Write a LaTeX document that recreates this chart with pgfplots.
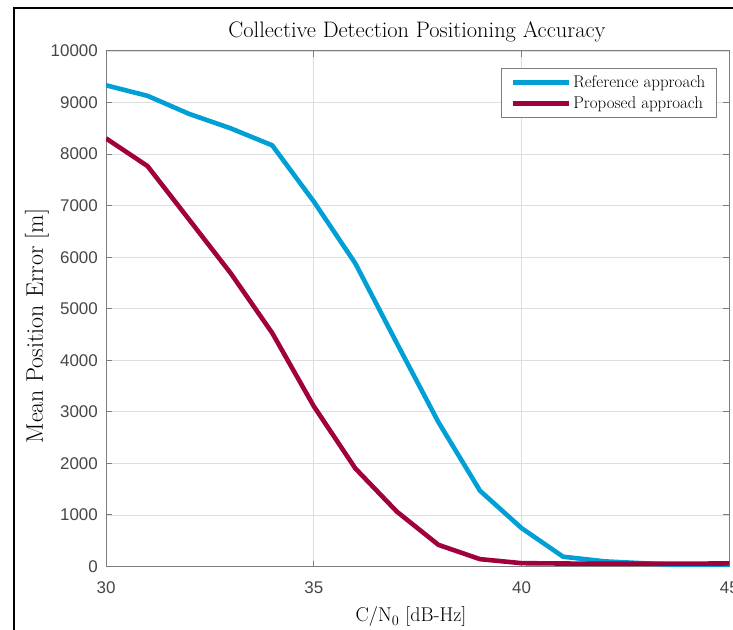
\documentclass[border=0pt]{standalone}
\usepackage{fontspec}
\usepackage{pgfplots}
\pgfplotsset{compat=1.18}
\newfontfamily\tickfont{Liberation Sans}
\definecolor{refblue}{RGB}{0,160,215}
\definecolor{propred}{RGB}{160,0,60}
\definecolor{tickgray}{RGB}{70,70,70}
\definecolor{axgray}{RGB}{125,125,125}
\definecolor{gridgray}{RGB}{222,222,222}
\begin{document}
\begin{tikzpicture}[x=1bp,y=1bp]
\useasboundingbox (0,0) rectangle (733,-630);
\draw[black, line width=1.5bp] (14,-640) -- (14,-8) -- (745,-8);
\begin{axis}[
  at={(106bp,-566.5bp)}, anchor=south west,
  scale only axis, width=623.3bp, height=515.5bp,
  xmin=30, xmax=45, ymin=0, ymax=10000,
  xtick={30,35,40,45}, ytick={0,1000,...,10000},
  scaled y ticks=false,
  grid=major, major grid style={gridgray, line width=0.8bp},
  axis line style={axgray, line width=1bp},
  tick style={axgray, line width=1bp},
  tick align=inside, major tick length=6bp,
  ticklabel style={font=\tickfont\fontsize{17}{19}\selectfont, text=tickgray, inner sep=0pt},
  xticklabel style={anchor=north, yshift=-15bp},
  yticklabel style={anchor=east, xshift=-8bp},
  /pgf/number format/assume math mode=true,
  /pgf/number format/1000 sep={},
  legend cell align=left,
  legend image code/.code={\draw[#1] (0bp,0bp) -- (56bp,0bp);},
  legend style={at={(0.9807,0.9676)}, anchor=north east, draw=axgray, line width=0.8bp,
    fill=white, font=\fontsize{17}{20}\selectfont, inner xsep=9bp, inner ysep=5bp,
    row sep=3bp, nodes={inner sep=2.5bp}},
]
\addplot[refblue, line width=4.6bp] coordinates {
 (30,9335) (31,9130) (32,8780) (33,8500) (34,8170) (35,7080) (36,5880) (37,4330)
 (38,2800) (39,1470) (40,745) (41,190) (42,100) (43,60) (44,20) (45,5)};
\addlegendentry{Reference approach}
\addplot[propred, line width=4.6bp] coordinates {
 (30,8305) (31,7767) (32,6730) (33,5690) (34,4530) (35,3110) (36,1903) (37,1064)
 (38,420) (39,143) (40,65) (41,58) (42,55) (43,55) (44,55) (45,60)};
\addlegendentry{Proposed approach}
\end{axis}
\node[font=\fontsize{22.5}{26}\selectfont, inner sep=0pt] at (417,-32) {Collective Detection Positioning Accuracy};
\node[font=\fontsize{20}{24}\selectfont, inner sep=0pt] at (411,-617) {C/N$_0$ [dB-Hz]};
\node[font=\fontsize{24}{28}\selectfont, inner sep=0pt, rotate=90] at (37,-326) {Mean Position Error [m]};
\end{tikzpicture}
\end{document}
